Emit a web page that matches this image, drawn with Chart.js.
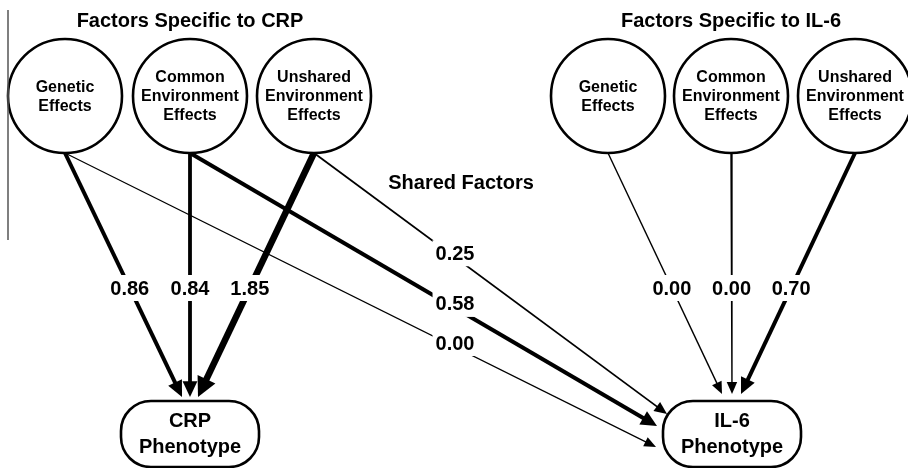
<!DOCTYPE html>
<html>
<head>
<meta charset="utf-8">
<script src="https://cdn.jsdelivr.net/npm/chart.js@4.4.1/dist/chart.umd.min.js"></script>
<style>
  html, body { margin: 0; padding: 0; background: #fff; }
  #wrap { width: 908px; height: 468px; }
</style>
</head>
<body>
<div id="wrap"><canvas id="pathChart" width="908" height="468"></canvas></div>
<script>
// path coefficients, in the order genetic / common env / unshared env
const factorLabels = [['Genetic', 'Effects'], ['Common', 'Environment', 'Effects'], ['Unshared', 'Environment', 'Effects']];
const phenotypeLabels = [['CRP', 'Phenotype'], ['IL-6', 'Phenotype']];
const groupTitles = ['Factors Specific to CRP', 'Factors Specific to IL-6'];
const sharedTitle = 'Shared Factors';
const crpPaths = [0.86, 0.84, 1.85];
const sharedPaths = [0.00, 0.58, 0.25];
const il6Paths = [0.00, 0.00, 0.70];

// layout (scales run 0..908 and 0..468 so units are canvas px)
const W = 908, H = 468;
const FONT = '"Liberation Sans", Arial, Helvetica, sans-serif';
const circleX = [[65, 190, 314], [608, 731, 855]];
const circleY = 96, circleR = 57;
const boxX = [190, 732], boxY = 434, boxW = 138, boxH = 66, boxRad = 30;
const crpTipDx = [-8, 0, 8], crpTipY = 397;
const il6TipDx = [-10, 0, 9], il6TipY = 394;
const sharedTips = [[656, 447], [657, 426], [667, 414]];
const crpWidths = [4, 3.8, 6.5];
const sharedWidths = [1.2, 4, 1.8];
const il6Widths = [1.4, 1.4, 4];
const labelRowY = 288, sharedLabelX = 455;

// build every edge from the nodes
const edges = [];
crpPaths.forEach((v, i) => edges.push({
  sx: circleX[0][i], sy: circleY + circleR, tx: boxX[0] + crpTipDx[i], ty: crpTipY,
  w: crpWidths[i], value: v, labelAt: 'row'
}));
sharedPaths.forEach((v, i) => edges.push({
  sx: circleX[0][i], sy: circleY + circleR, tx: sharedTips[i][0], ty: sharedTips[i][1],
  w: sharedWidths[i], value: v, labelAt: 'col'
}));
il6Paths.forEach((v, i) => edges.push({
  sx: circleX[1][i], sy: circleY + circleR, tx: boxX[1] + il6TipDx[i], ty: il6TipY,
  w: il6Widths[i], value: v, labelAt: 'row'
}));

edges.forEach(e => {
  const dx = e.tx - e.sx, dy = e.ty - e.sy;
  const len = Math.hypot(dx, dy);
  e.ux = dx / len; e.uy = dy / len;
  e.headLen = 10 + 1.5 * e.w;
  e.headHalf = 4 + 0.9 * e.w;
  e.ex = e.tx - e.ux * (e.headLen - 2);
  e.ey = e.ty - e.uy * (e.headLen - 2);
  const t = e.labelAt === 'row' ? (labelRowY - e.sy) / dy : (sharedLabelX - e.sx) / dx;
  e.lx = e.sx + t * dx;
  e.ly = e.sy + t * dy - (e.labelAt === 'row' ? 0 : 4);
});

const circlePoints = [];
circleX.forEach((row, g) => row.forEach((x, i) => circlePoints.push({ x, y: circleY, label: factorLabels[i] })));

const datasets = [{
  label: 'factors',
  data: circlePoints,
  pointRadius: circleR,
  pointBackgroundColor: '#fff',
  pointBorderColor: '#000',
  pointBorderWidth: 2.6,
  showLine: false
}];
edges.forEach((e, i) => datasets.push({
  label: 'path' + i,
  data: [{ x: e.sx, y: e.sy }, { x: e.ex, y: e.ey }],
  showLine: true,
  borderColor: '#000',
  borderWidth: e.w,
  pointRadius: 0,
  fill: false
}));

function roundRect(ctx, x, y, w, h, r) {
  ctx.beginPath();
  ctx.moveTo(x + r, y);
  ctx.lineTo(x + w - r, y);
  ctx.arc(x + w - r, y + r, r, -Math.PI / 2, 0);
  ctx.lineTo(x + w, y + h - r);
  ctx.arc(x + w - r, y + h - r, r, 0, Math.PI / 2);
  ctx.lineTo(x + r, y + h);
  ctx.arc(x + r, y + h - r, r, Math.PI / 2, Math.PI);
  ctx.lineTo(x, y + r);
  ctx.arc(x + r, y + r, r, Math.PI, Math.PI * 1.5);
  ctx.closePath();
}

const diagramPlugin = {
  id: 'diagram',
  afterDatasetsDraw(chart) {
    const ctx = chart.ctx;
    const sx = chart.scales.x, sy = chart.scales.y;
    const px = v => sx.getPixelForValue(v);
    const py = v => sy.getPixelForValue(v);
    ctx.save();

    // left rule
    ctx.strokeStyle = '#555';
    ctx.lineWidth = 1.5;
    ctx.beginPath();
    ctx.moveTo(px(8), py(10));
    ctx.lineTo(px(8), py(240));
    ctx.stroke();

    // arrow heads
    ctx.fillStyle = '#000';
    edges.forEach(e => {
      const bx = e.tx - e.ux * e.headLen, by = e.ty - e.uy * e.headLen;
      ctx.beginPath();
      ctx.moveTo(px(e.tx), py(e.ty));
      ctx.lineTo(px(bx - e.uy * e.headHalf), py(by + e.ux * e.headHalf));
      ctx.lineTo(px(bx + e.uy * e.headHalf), py(by - e.ux * e.headHalf));
      ctx.closePath();
      ctx.fill();
    });

    // coefficient labels
    ctx.font = 'bold 20px ' + FONT;
    ctx.textAlign = 'center';
    ctx.textBaseline = 'middle';
    edges.forEach(e => {
      const txt = e.value.toFixed(2);
      const tw = ctx.measureText(txt).width;
      ctx.fillStyle = '#fff';
      ctx.fillRect(px(e.lx) - tw / 2 - 3, py(e.ly) - 13, tw + 6, 26);
      ctx.fillStyle = '#000';
      ctx.fillText(txt, px(e.lx), py(e.ly) + 1);
    });

    // circle texts
    ctx.font = 'bold 16px ' + FONT;
    circlePoints.forEach(p => {
      const n = p.label.length;
      p.label.forEach((line, k) => {
        ctx.fillText(line, px(p.x), py(p.y + (k - (n - 1) / 2) * 19 + 1));
      });
    });

    // phenotype boxes
    boxX.forEach((x, i) => {
      ctx.fillStyle = '#fff';
      ctx.strokeStyle = '#000';
      ctx.lineWidth = 2.6;
      roundRect(ctx, px(x - boxW / 2), py(boxY - boxH / 2), boxW, boxH, boxRad);
      ctx.fill();
      ctx.stroke();
      ctx.fillStyle = '#000';
      ctx.font = 'bold 20px ' + FONT;
      phenotypeLabels[i].forEach((line, k) => {
        ctx.fillText(line, px(x), py(boxY - 14 + k * 26 + 1));
      });
    });

    // titles
    ctx.font = 'bold 20px ' + FONT;
    groupTitles.forEach((t, i) => ctx.fillText(t, px(circleX[i][1]), py(21)));
    ctx.fillText(sharedTitle, px(461), py(183));

    ctx.restore();
  }
};

new Chart(document.getElementById('pathChart'), {
  type: 'scatter',
  data: { datasets },
  options: {
    responsive: false,
    animation: false,
    events: [],
    layout: { padding: 0, autoPadding: false },
    plugins: { legend: { display: false }, tooltip: { enabled: false } },
    scales: {
      x: { type: 'linear', min: 0, max: W, display: false },
      y: { type: 'linear', min: 0, max: H, reverse: true, display: false }
    }
  },
  plugins: [diagramPlugin]
});
</script>
</body>
</html>
